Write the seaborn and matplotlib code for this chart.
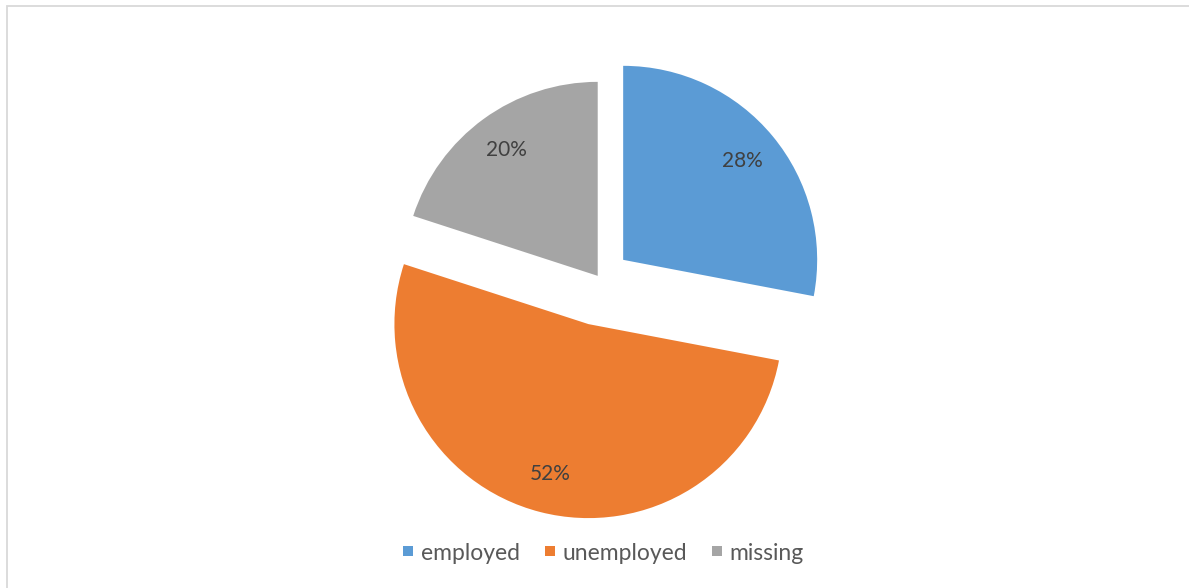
import matplotlib
matplotlib.use("Agg")
import matplotlib.pyplot as plt
from matplotlib.patches import Rectangle
from matplotlib.lines import Line2D
import seaborn as sns

categories = ["employed", "unemployed", "missing"]
shares = [28, 52, 20]
colors = ["#5B9BD5", "#ED7D31", "#A5A5A5"]
explode = [0.155, 0.24, 0.02]

sns.set_theme(style="white")
plt.rcParams["font.family"] = ["Lato", "DejaVu Sans"]

W, H = 1189, 588
fig = plt.figure(figsize=(W / 100, H / 100), dpi=100)
ax = fig.add_axes([0, 0, 1, 1])

# pixel geometry of the pie: centre and radius
cx, cy, r = 600, 279, 194

wedges, texts, autotexts = ax.pie(
    shares,
    colors=colors,
    explode=explode,
    startangle=90,
    counterclock=False,
    radius=1,
    center=(0, 0),
    autopct=lambda p: f"{p:.0f}%",
    pctdistance=0.80,
    wedgeprops=dict(linewidth=0),
    textprops=dict(fontsize=15, color="#404040"),
    frame=True,
)
ax.set_xlim((0 - cx) / r, (W - cx) / r)
ax.set_ylim(-(H - cy) / r, cy / r)
ax.set_aspect("auto")
ax.axis("off")

handles = [
    Line2D([0], [0], marker="s", linestyle="none", markersize=7,
           markerfacecolor=c, markeredgewidth=0)
    for c in colors
]
leg = fig.legend(
    handles, categories,
    loc="center", bbox_to_anchor=(603 / W, 1 - 553 / H),
    ncol=3, frameon=False, fontsize=16.5, handlelength=0.55,
    handletextpad=0.3, columnspacing=1.0,
)
for t in leg.get_texts():
    t.set_color("#595959")

# chart area outline (only top and left edges fall inside the image)
fig.patches.append(Rectangle((6.5 / W, -0.05), 1.1, 1.05 - 6.5 / H,
                             transform=fig.transFigure, fill=False,
                             edgecolor="#D9D9D9", linewidth=1.3))

fig.savefig("out.png", dpi=100, facecolor="white")
